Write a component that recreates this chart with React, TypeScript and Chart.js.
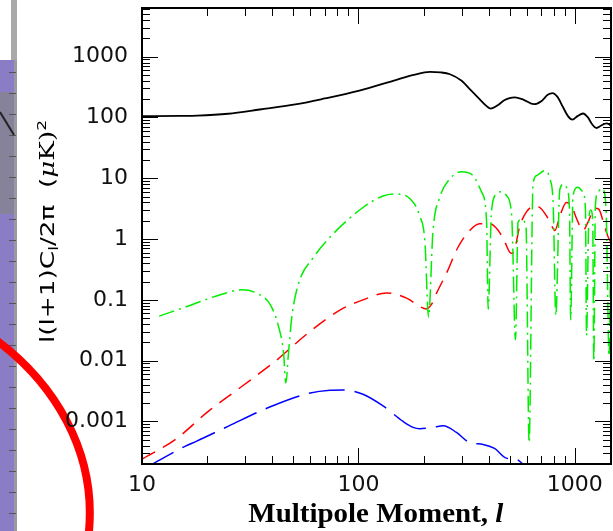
import { useEffect, useRef } from "react";
import { Chart, registerables } from "chart.js";

Chart.register(...registerables);

// ---- axis ticks / labels ----
const xTickValues = [10, 100, 1000];
const xTickLabels = ["10", "100", "1000"];
const yTickValues = [0.001, 0.01, 0.1, 1, 10, 100, 1000];
const yTickLabels = ["0.001", "0.01", "0.1", "1", "10", "100", "1000"];
const xTitleMain = "Multipole Moment, ";
const xTitleItalic = "l";

// ---- series: temperature (black, solid) ----
const ttL = [10, 15, 18, 25, 35, 52, 70, 100, 150, 180, 214, 240, 265, 300, 327, 363, 390, 409, 440, 470, 500, 528, 580, 647, 700, 750, 788, 830, 880, 930, 975, 1030, 1091, 1150, 1200, 1259, 1320, 1402, 1440, 1470];
const ttV = [105, 106, 107, 115, 135, 165, 205, 274, 416, 500, 560, 550, 513, 400, 292, 200, 155, 140, 158, 190, 208, 213, 195, 165, 185, 235, 251, 220, 150, 105, 92, 105, 116, 100, 78, 67, 73, 80, 77, 72];

// ---- series: E-mode polarization (red, dashed) ----
const eeL = [10, 14.3, 20.3, 29, 41.3, 58.9, 84, 105, 135, 167, 192, 206, 218, 230, 256, 289, 327, 363, 405, 443, 475, 500, 515, 528, 556, 598, 653, 689, 740, 781, 809, 853, 915, 966, 1018, 1091, 1151, 1236, 1290, 1350, 1400, 1440, 1470];
const eeV = [0.00024, 0.00051, 0.00148, 0.0038, 0.0098, 0.029, 0.071, 0.1, 0.13, 0.107, 0.078, 0.071, 0.085, 0.13, 0.28, 0.74, 1.38, 1.78, 1.78, 1.38, 0.89, 0.61, 0.58, 0.69, 1.6, 2.8, 3.5, 3.3, 2.4, 1.67, 1.38, 2.4, 4.0, 3.5, 2.2, 1.38, 1.9, 3.2, 3.1, 2.0, 1.3, 1.0, 0.9];

// ---- series: TE cross (green, dash-dot) ----
const teL = [12, 17, 23.4, 29, 34.6, 39.2, 42.8, 45.1, 46.2, 47.5, 49.3, 53, 62, 73.8, 105, 130, 150, 173, 192, 203, 211, 221, 238, 265, 300, 339, 371, 391, 398, 412, 434, 458, 483, 511, 532, 547, 567, 595, 615, 641, 665, 727, 767, 795, 817, 853, 890, 915, 945, 957, 981, 1035, 1091, 1120, 1133, 1160, 1185, 1210, 1224, 1245, 1280, 1329, 1370, 1400, 1440, 1467];
const teV = [0.054, 0.083, 0.124, 0.146, 0.124, 0.083, 0.036, 0.0133, 0.0043, 0.013, 0.054, 0.19, 0.5, 1.07, 3.3, 5.1, 5.5, 4.6, 2.4, 0.89, 0.052, 1.3, 4.9, 9.8, 12.8, 11, 5.9, 2.0, 0.07, 2.8, 5.5, 6.0, 5.2, 2.4, 0.022, 1.9, 2.1, 1.6, 0.00045, 7.6, 11, 13.3, 9.8, 3.5, 0.055, 6.6, 8, 7.1, 3.1, 0.047, 5.2, 7.1, 5.9, 3.1, 0.026, 2.0, 3.0, 2.0, 0.0098, 3.5, 5.9, 6.8, 5.9, 2.0, 0.012, 0.8];

// ---- series: B-mode polarization (blue, long dash) ----
const bbL = [10, 15.8, 17.9, 25.1, 40, 58.9, 74, 84, 105, 130, 161, 179, 192, 220, 247, 284, 327, 377, 426, 483, 535, 576, 620];
const bbV = [0.00016, 0.00039, 0.000475, 0.00084, 0.0018, 0.0029, 0.00327, 0.0033, 0.0028, 0.0018, 0.001, 0.0008, 0.00076, 0.0008, 0.00085, 0.00066, 0.00045, 0.00042, 0.00036, 0.00025, 0.00024, 0.0002, 0.00016];

const X_MIN = 10;
const X_MAX = 1470;
const Y_MIN = 2e-4;
const Y_MAX = 6300;

const pts = (xs: number[], ys: number[]) => xs.map((x, i) => ({ x, y: ys[i] }));

function labelFor(values: number[], labels: string[], v: number) {
  for (let i = 0; i < values.length; i++) {
    if (Math.abs(Math.log10(values[i]) - Math.log10(v)) < 1e-6) return labels[i];
  }
  return "";
}

const decorPlugin = {
  id: "decor",
  beforeDraw(chart: any) {
    const ctx = chart.ctx as CanvasRenderingContext2D;
    ctx.save();
    ctx.fillStyle = "#a9a9a9";
    ctx.fillRect(11, 0, 6, 60);
    ctx.fillStyle = "#8a7dc6";
    ctx.fillRect(0, 60, 14, 471);
    ctx.fillStyle = "#9b98a6";
    ctx.fillRect(14, 60, 3, 471);
    ctx.fillStyle = "#85829a";
    ctx.fillRect(0, 92, 14, 122);
    ctx.strokeStyle = "#555";
    ctx.lineWidth = 1;
    for (let y = 72; y < 531; y += 21) {
      ctx.beginPath();
      ctx.moveTo(9, y + 0.5);
      ctx.lineTo(16, y + 0.5);
      ctx.stroke();
    }
    ctx.strokeStyle = "#222";
    ctx.lineWidth = 2;
    ctx.beginPath();
    ctx.moveTo(0, 112);
    ctx.lineTo(14, 135);
    ctx.stroke();
    ctx.strokeStyle = "#ff0000";
    ctx.lineWidth = 8;
    ctx.beginPath();
    ctx.moveTo(-4, 340);
    ctx.bezierCurveTo(50, 380, 100, 450, 88, 540);
    ctx.stroke();
    ctx.restore();
  },
};

const framePlugin = {
  id: "frame",
  afterDraw(chart: any) {
    const ctx = chart.ctx as CanvasRenderingContext2D;
    const a = chart.chartArea;
    const xs = chart.scales.x;
    const ys = chart.scales.y;
    ctx.save();
    ctx.strokeStyle = "#000";
    ctx.lineWidth = 1;
    const seg = (x1: number, y1: number, x2: number, y2: number) => {
      ctx.beginPath();
      ctx.moveTo(x1, y1);
      ctx.lineTo(x2, y2);
      ctx.stroke();
    };
    for (let d = 1; d <= 3; d++) {
      for (let m = 1; m <= 9; m++) {
        const v = m * Math.pow(10, d);
        if (v < X_MIN || v > X_MAX) continue;
        const px = Math.round(xs.getPixelForValue(v)) + 0.5;
        const len = m === 1 ? 16 : 8;
        seg(px, a.bottom, px, a.bottom - len);
        seg(px, a.top, px, a.top + len);
      }
    }
    for (let d = -4; d <= 3; d++) {
      for (let m = 1; m <= 9; m++) {
        const v = m * Math.pow(10, d);
        if (v < Y_MIN * 0.999 || v > Y_MAX) continue;
        const py = Math.round(ys.getPixelForValue(v)) + 0.5;
        const len = m === 1 ? 16 : 8;
        seg(a.left, py, a.left + len, py);
        seg(a.right, py, a.right - len, py);
      }
    }
    ctx.lineWidth = 2;
    ctx.strokeRect(a.left, a.top, a.right - a.left, a.bottom - a.top);

    // x-axis title
    ctx.fillStyle = "#000";
    ctx.textBaseline = "alphabetic";
    ctx.textAlign = "left";
    const f1 = 'bold 28px "Liberation Serif", "Times New Roman", serif';
    const f2 = 'italic bold 28px "Liberation Serif", "Times New Roman", serif';
    ctx.font = f1;
    const w1 = ctx.measureText(xTitleMain).width;
    ctx.font = f2;
    const w2 = ctx.measureText(xTitleItalic).width;
    const sx = 255 / (w1 + w2);
    ctx.save();
    ctx.translate(375.8, 522);
    ctx.scale(sx, 1);
    ctx.font = f1;
    ctx.fillText(xTitleMain, -(w1 + w2) / 2, 0);
    ctx.font = f2;
    ctx.fillText(xTitleItalic, -(w1 + w2) / 2 + w1, 0);
    ctx.restore();

    // y-axis title
    const parts = [
      { t: "l(l+1)C", f: '20px "DejaVu Sans"', dy: 0 },
      { t: "l", f: '13px "DejaVu Sans"', dy: 4 },
      { t: "/2π  (", f: '20px "DejaVu Sans"', dy: 0 },
      { t: "μ", f: 'italic 20px "DejaVu Serif"', dy: 0 },
      { t: "K)", f: '20px "DejaVu Serif"', dy: 0 },
      { t: "2", f: '13px "DejaVu Sans"', dy: -8 },
    ];
    let total = 0;
    const widths = parts.map((p) => {
      ctx.font = p.f;
      const w = ctx.measureText(p.t).width;
      total += w;
      return w;
    });
    const sy = 223 / total;
    ctx.save();
    ctx.translate(54, 231.5);
    ctx.rotate(-Math.PI / 2);
    ctx.scale(sy, 1);
    let cx = -total / 2;
    parts.forEach((p, i) => {
      ctx.font = p.f;
      ctx.fillText(p.t, cx, p.dy);
      cx += widths[i];
    });
    ctx.restore();
    ctx.restore();
  },
};

export default function App() {
  const ref = useRef<HTMLCanvasElement | null>(null);
  useEffect(() => {
    if (!ref.current) return;
    const common = { pointRadius: 0, fill: false, cubicInterpolationMode: "monotone" as const };
    const chart = new Chart(ref.current, {
      type: "line",
      data: {
        datasets: [
          { ...common, label: "TT", data: pts(ttL, ttV), borderColor: "#000000", borderWidth: 1.8 },
          { ...common, label: "TE", data: pts(teL, teV), borderColor: "#00ee00", borderWidth: 1.5, borderDash: [16, 5, 2, 5] },
          { ...common, label: "EE", data: pts(eeL, eeV), borderColor: "#ff0000", borderWidth: 1.5, borderDash: [15, 9] },
          { ...common, label: "BB", data: pts(bbL, bbV), borderColor: "#0000ff", borderWidth: 1.5, borderDash: [36, 10] },
        ],
      },
      options: {
        animation: false,
        responsive: true,
        maintainAspectRatio: false,
        parsing: true,
        layout: { padding: { top: 8, right: 2, left: 0, bottom: 0 } },
        plugins: { legend: { display: false }, tooltip: { enabled: false } },
        scales: {
          x: {
            type: "logarithmic",
            min: X_MIN,
            max: X_MAX,
            grid: { display: false, drawTicks: false },
            border: { display: false },
            afterBuildTicks: (s: any) => {
              s.ticks = xTickValues.map((v) => ({ value: v }));
            },
            afterFit: (s: any) => {
              s.height = 67;
              s.paddingLeft = 0;
              s.paddingRight = 0;
              s.paddingTop = 0;
              s.paddingBottom = 0;
            },
            ticks: {
              autoSkip: false,
              maxRotation: 0,
              padding: 8,
              color: "#111",
              font: { family: "DejaVu Sans", size: 22 },
              callback: (v: any) => labelFor(xTickValues, xTickLabels, Number(v)),
            },
          },
          y: {
            type: "logarithmic",
            min: Y_MIN,
            max: Y_MAX,
            grid: { display: false, drawTicks: false },
            border: { display: false },
            afterBuildTicks: (s: any) => {
              s.ticks = yTickValues.map((v) => ({ value: v }));
            },
            afterFit: (s: any) => {
              s.width = 142;
              s.paddingLeft = 0;
              s.paddingRight = 0;
              s.paddingTop = 0;
              s.paddingBottom = 0;
            },
            ticks: {
              autoSkip: false,
              padding: 14,
              color: "#111",
              font: { family: "DejaVu Sans", size: 22 },
              callback: (v: any) => labelFor(yTickValues, yTickLabels, Number(v)),
            },
          },
        },
      },
      plugins: [decorPlugin, framePlugin],
    });
    return () => chart.destroy();
  }, []);
  return (
    <div style={{ position: "fixed", left: 0, top: 0, width: 613, height: 531, background: "#fff" }}>
      <canvas ref={ref} />
    </div>
  );
}
